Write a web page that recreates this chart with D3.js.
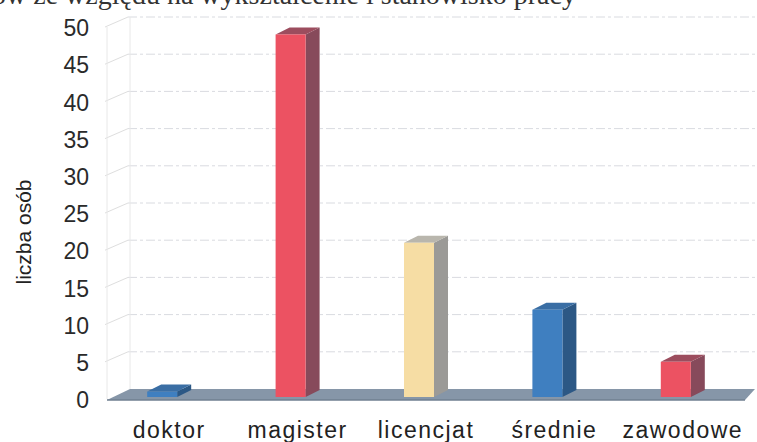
<!DOCTYPE html>
<html>
<head>
<meta charset="utf-8">
<script src="https://cdn.jsdelivr.net/npm/d3@7"></script>
<style>
  body { margin: 0; background: #fff; }
  svg { display: block; font-family: "Liberation Sans", Arial, sans-serif; }
</style>
</head>
<body>
<div id="chart"></div>
<script>
// values
const categories = ["doktor", "magister", "licencjat", "średnie", "zawodowe"];
const counts = [1, 49, 21, 12, 5];
const yTicks = [0, 5, 10, 15, 20, 25, 30, 35, 40, 45, 50];
const yTitle = "liczba osób";
const captionText = "ów ze względu na wykształcenie i stanowisko pracy";

const width = 757, height = 442;

const svg = d3.select("#chart").append("svg")
    .attr("width", width)
    .attr("height", height);

// front plane scales
const x = d3.scaleBand().domain(categories).range([105, 747]);
const y = d3.scaleLinear().domain([0, 50]).range([399, 27]);

// 3d offsets: walls and bars
const wall = { dx: 23, dy: -10 };
const bar = { dx: 14, dy: -7, w: 30 };

// colour per category (front, side, top)
const faces = {
  blue:   ["#3f7fc0", "#2c5885", "#3a6ea4"],
  red:    ["#ec5262", "#874a5b", "#9c4d5e"],
  yellow: ["#f6dda4", "#9b9a97", "#b9b6ad"]
};
const colour = d3.scaleOrdinal().domain(categories)
    .range(["blue", "red", "yellow", "blue", "red"]);

// cropped caption line from the page above
svg.append("text")
    .attr("x", -8).attr("y", 4)
    .style("font-family", "'Liberation Serif', serif")
    .style("font-size", "28px")
    .attr("fill", "#333")
    .text(captionText);

// back wall grid
const grid = svg.append("g");
grid.selectAll("line.back")
    .data(yTicks.filter(d => d > 0))
    .enter().append("line")
    .attr("x1", x.range()[0] + wall.dx)
    .attr("x2", width)
    .attr("y1", d => y(d) + wall.dy)
    .attr("y2", d => y(d) + wall.dy)
    .attr("stroke", "#d9dbe0")
    .attr("stroke-dasharray", "9 3 3 3");

// side wall lines
grid.selectAll("line.side")
    .data(yTicks.filter(d => d > 0))
    .enter().append("line")
    .attr("x1", x.range()[0])
    .attr("x2", x.range()[0] + wall.dx)
    .attr("y1", d => y(d))
    .attr("y2", d => y(d) + wall.dy)
    .attr("stroke", "#dedede");

[0, wall.dx].forEach(off => {
  grid.append("line")
      .attr("x1", x.range()[0] + off + 2)
      .attr("x2", x.range()[0] + off + 2)
      .attr("y1", y(50) + (off ? wall.dy : 0))
      .attr("y2", y(0) + (off ? wall.dy : 0))
      .attr("stroke", "#e8e8e8");
});

// floor slab
const fx0 = x.range()[0] + 2, fx1 = x.range()[1] - 2;
svg.append("polygon")
    .attr("points", [
      [fx0, y(0) + 1],
      [fx0 + wall.dx, y(0) + wall.dy],
      [fx1 + 10, y(0) + wall.dy],
      [fx1, y(0) + 1]
    ].join(" "))
    .attr("fill", "#8696a8");
svg.append("line")
    .attr("x1", fx0).attr("x2", fx1)
    .attr("y1", y(0) + 1).attr("y2", y(0) + 1)
    .attr("stroke", "#6f7f90").attr("stroke-width", 1.5);

// bars
const bars = svg.append("g")
    .selectAll("g")
    .data(categories.map((c, i) => ({ cat: c, value: counts[i] })))
    .enter().append("g");

const left = d => x(d.cat) + x.bandwidth() / 2 - (bar.w + bar.dx) / 2;

bars.append("polygon") // side
    .attr("points", d => {
      const x1 = left(d) + bar.w, yt = y(d.value), yb = y(0) - 2;
      return [[x1, yt], [x1 + bar.dx, yt + bar.dy], [x1 + bar.dx, yb + bar.dy], [x1, yb]].join(" ");
    })
    .attr("fill", d => faces[colour(d.cat)][1]);

bars.append("polygon") // top
    .attr("points", d => {
      const x0 = left(d), x1 = x0 + bar.w, yt = y(d.value);
      return [[x0, yt], [x0 + bar.dx, yt + bar.dy], [x1 + bar.dx, yt + bar.dy], [x1, yt]].join(" ");
    })
    .attr("fill", d => faces[colour(d.cat)][2]);

bars.append("rect") // front
    .attr("x", d => left(d))
    .attr("y", d => y(d.value))
    .attr("width", bar.w)
    .attr("height", d => y(0) - 2 - y(d.value))
    .attr("fill", d => faces[colour(d.cat)][0]);

// value axis labels
svg.append("g")
    .selectAll("text")
    .data(yTicks)
    .enter().append("text")
    .attr("x", 89)
    .attr("y", d => y(d) + 1)
    .attr("dy", "0.36em")
    .attr("text-anchor", "end")
    .attr("fill", "#2a2a2a")
    .style("font-size", "23px")
    .text(d => d);

// axis title
svg.append("text")
    .attr("transform", "translate(31,232) rotate(-90)")
    .attr("text-anchor", "middle")
    .attr("fill", "#222")
    .style("font-size", "21px")
    .text(yTitle);

// category labels
svg.append("g")
    .selectAll("text")
    .data(categories)
    .enter().append("text")
    .attr("x", d => x(d) + x.bandwidth() / 2)
    .attr("y", 438)
    .attr("text-anchor", "middle")
    .attr("fill", "#222")
    .style("font-size", "23px")
    .style("letter-spacing", "1.5px")
    .text(d => d);
</script>
</body>
</html>
